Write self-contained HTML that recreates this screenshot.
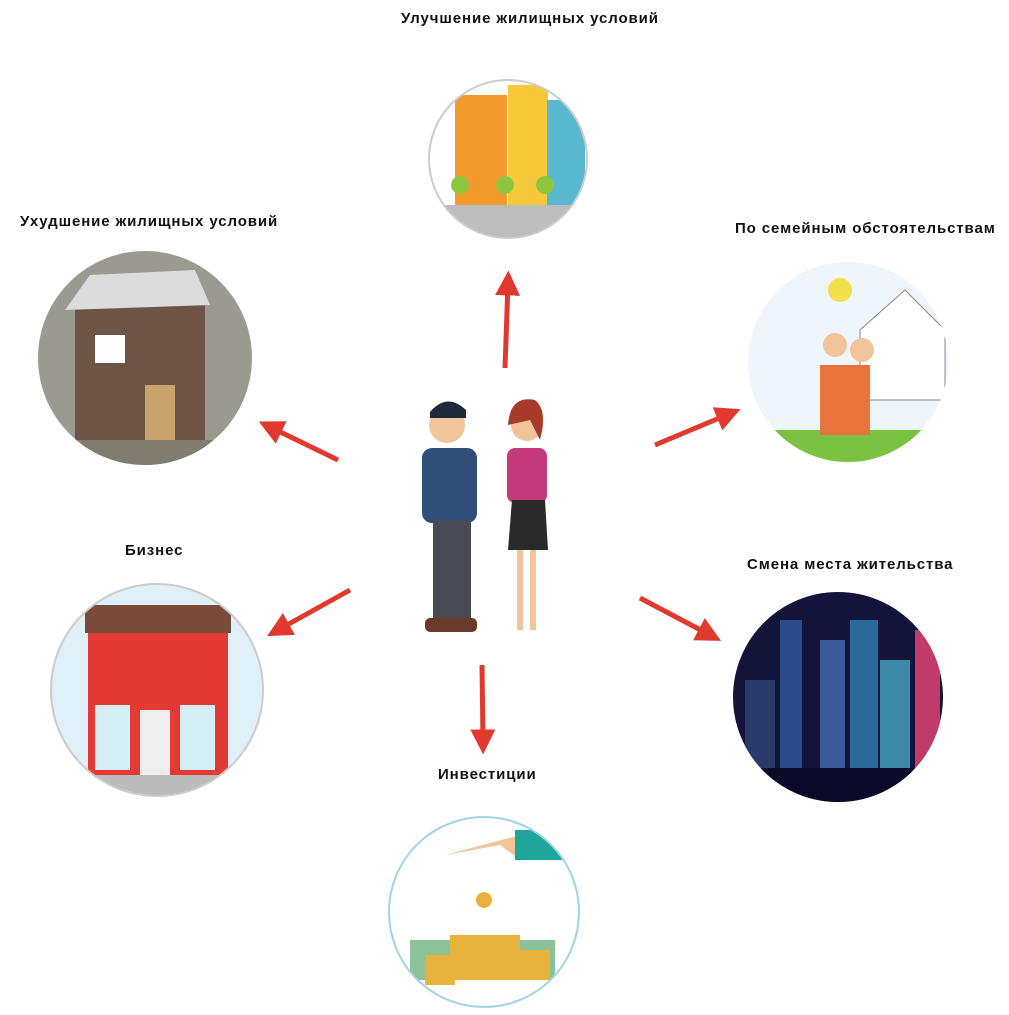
<!DOCTYPE html>
<html><head><meta charset="utf-8"><style>
html,body{margin:0;padding:0;background:#fff;width:1009px;height:1015px;overflow:hidden}
.t{position:absolute;font-family:"Liberation Sans",sans-serif;font-weight:bold;font-size:15px;letter-spacing:0.9px;color:#111;white-space:nowrap}
svg{position:absolute;left:0;top:0}
</style></head><body>
<svg width="1009" height="1015" viewBox="0 0 1009 1015">
<defs>
<marker id="a" markerWidth="5" markerHeight="5" refX="2.5" refY="2.5" orient="auto"><path d="M0,0 L5,2.5 L0,5 z" fill="#e2392f"/></marker>
<clipPath id="c1"><circle cx="508" cy="159" r="79"/></clipPath>
<clipPath id="c2"><circle cx="145" cy="358" r="107"/></clipPath>
<clipPath id="c3"><circle cx="848" cy="362" r="100"/></clipPath>
<clipPath id="c4"><circle cx="157" cy="690" r="106"/></clipPath>
<clipPath id="c5"><circle cx="838" cy="697" r="105"/></clipPath>
<clipPath id="c6"><circle cx="484" cy="912" r="95"/></clipPath>
</defs>
<g clip-path="url(#c1)"><rect x="420" y="70" width="180" height="180" fill="#fff"/>
<rect x="455" y="95" width="52" height="110" fill="#f39a2c"/><rect x="508" y="85" width="40" height="120" fill="#f6c83a"/><rect x="547" y="100" width="38" height="105" fill="#58b8cf"/>
<rect x="420" y="205" width="180" height="40" fill="#bdbdbd"/><circle cx="460" cy="185" r="9" fill="#8cc63f"/><circle cx="505" cy="185" r="9" fill="#8cc63f"/><circle cx="545" cy="185" r="9" fill="#8cc63f"/></g>
<circle cx="508" cy="159" r="79" fill="none" stroke="#ccc" stroke-width="2"/>
<g clip-path="url(#c2)"><rect x="30" y="245" width="230" height="230" fill="#9a9a90"/>
<rect x="75" y="305" width="130" height="150" fill="#6e5446"/><path d="M65,310 L90,275 L195,270 L210,305 z" fill="#dcdcdc"/>
<rect x="95" y="335" width="30" height="28" fill="#fff"/><rect x="145" y="385" width="30" height="55" fill="#c9a36e"/><rect x="30" y="440" width="230" height="40" fill="#807c70"/></g>
<g clip-path="url(#c3)"><rect x="740" y="255" width="220" height="220" fill="#eef5fb"/>
<path d="M860,330 L905,290 L945,330 V400 H860z" fill="#fff" stroke="#888"/><rect x="740" y="430" width="220" height="40" fill="#7cc242"/>
<circle cx="840" cy="290" r="12" fill="#f4e04d"/><rect x="820" y="365" width="50" height="70" fill="#e8743b"/><circle cx="835" cy="345" r="12" fill="#f2c49b"/><circle cx="862" cy="350" r="12" fill="#f2c49b"/></g>
<g clip-path="url(#c4)"><rect x="45" y="580" width="225" height="225" fill="#dff0f8"/>
<rect x="88" y="630" width="140" height="150" fill="#e53935"/><rect x="85" y="605" width="146" height="28" fill="#7a4a3a"/>
<rect x="95" y="705" width="35" height="65" fill="#d6eef5"/><rect x="180" y="705" width="35" height="65" fill="#d6eef5"/><rect x="140" y="710" width="30" height="65" fill="#eee"/><rect x="45" y="775" width="225" height="30" fill="#bbb"/></g>
<circle cx="157" cy="690" r="106" fill="none" stroke="#ccc" stroke-width="2"/>
<g clip-path="url(#c5)"><rect x="730" y="590" width="220" height="220" fill="#14143a"/>
<rect x="780" y="620" width="22" height="150" fill="#2a4a8a"/><rect x="820" y="640" width="25" height="130" fill="#3a5a9a"/><rect x="850" y="620" width="28" height="150" fill="#2a6a9a"/><rect x="880" y="660" width="30" height="110" fill="#3a8aa8"/><rect x="915" y="630" width="25" height="140" fill="#c03a6a"/><rect x="745" y="680" width="30" height="90" fill="#2a3a6a"/>
<rect x="730" y="768" width="220" height="40" fill="#0a0a28"/></g>
<g clip-path="url(#c6)"><rect x="385" y="815" width="200" height="200" fill="#fff"/>
<rect x="410" y="940" width="145" height="40" fill="#8cc29a"/><g fill="#e7b33c"><rect x="450" y="935" width="70" height="45"/><rect x="425" y="955" width="30" height="30"/><rect x="520" y="950" width="30" height="30"/></g>
<path d="M445,855 L500,845 L520,860 L570,855 L560,830 L520,835 z" fill="#f2c49b"/><rect x="515" y="830" width="60" height="30" fill="#1fa69a"/><circle cx="484" cy="900" r="8" fill="#e7b33c"/></g>
<circle cx="484" cy="912" r="95" fill="none" stroke="#9fd3e6" stroke-width="2"/>
<g><circle cx="447" cy="425" r="18" fill="#f2c49b"/><path d="M430,412 Q447,392 466,410 L466,418 L430,418z" fill="#1e2a3a"/>
<rect x="422" y="448" width="55" height="75" rx="10" fill="#2f4f78"/><rect x="433" y="520" width="38" height="100" fill="#4a4a55"/><rect x="425" y="618" width="52" height="14" rx="5" fill="#6a3a2a"/>
<circle cx="527" cy="425" r="16" fill="#f2c49b"/><path d="M508,425 Q510,395 535,400 Q548,410 540,440 L530,420z" fill="#a83a2a"/>
<rect x="507" y="448" width="40" height="55" rx="8" fill="#c43a7a"/><path d="M512,500 L545,500 L548,550 L508,550z" fill="#2a2a2a"/><rect x="517" y="550" width="6" height="80" fill="#f2c49b"/><rect x="530" y="550" width="6" height="80" fill="#f2c49b"/></g>
<g stroke="#e2392f" stroke-width="5" fill="none" marker-end="url(#a)">
<line x1="505" y1="368" x2="508" y2="283"/>
<line x1="338" y1="460" x2="270" y2="427"/>
<line x1="655" y1="445" x2="729" y2="414"/>
<line x1="350" y1="590" x2="278" y2="630"/>
<line x1="640" y1="598" x2="710" y2="635"/>
<line x1="482" y1="665" x2="483" y2="742"/>
</g>
</svg>
<div class="t" style="left:401px;top:10px">Улучшение жилищных условий</div>
<div class="t" style="left:20px;top:213px">Ухудшение жилищных условий</div>
<div class="t" style="left:735px;top:220px">По семейным обстоятельствам</div>
<div class="t" style="left:125px;top:542px">Бизнес</div>
<div class="t" style="left:747px;top:556px">Смена места жительства</div>
<div class="t" style="left:438px;top:766px">Инвестиции</div>
</body></html>
